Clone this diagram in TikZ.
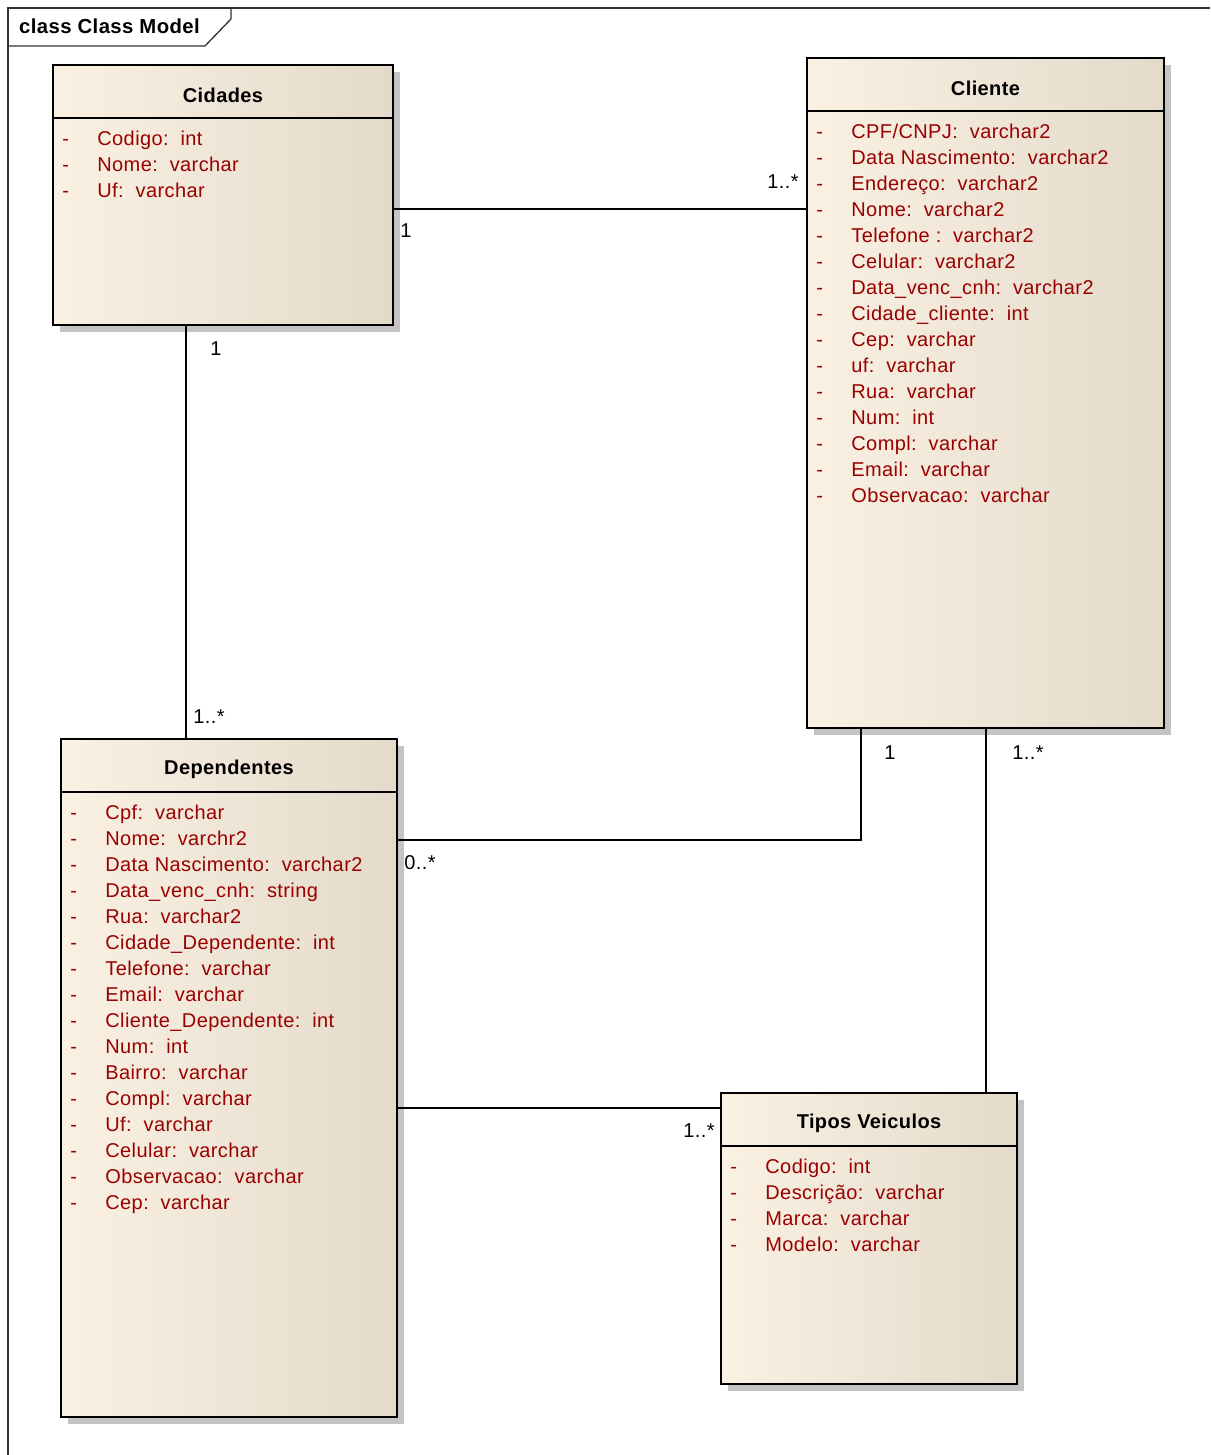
\documentclass[tikz,border=0pt]{standalone}
\usepackage{fontspec}
\setmainfont{Liberation Sans}[LetterSpace=2]
\usetikzlibrary{shadows}
\definecolor{classfill}{RGB}{251,241,227}
\definecolor{classshade}{RGB}{228,218,202}
\definecolor{attrred}{RGB}{153,0,0}
\definecolor{shadowgray}{RGB}{196,196,196}
\definecolor{framegray}{RGB}{50,50,50}
\tikzset{
  classbox/.style={
    draw=black,
    line width=1.6pt,
    inner sep=0pt,
    left color=classfill,
    middle color=classfill,
    right color=classshade,
    drop shadow={shadow xshift=7pt,shadow yshift=-7pt,fill=shadowgray,opacity=1}
  },
  classtitle/.style={
    font=\fontsize{20}{24}\selectfont\bfseries,
    inner sep=0pt
  },
  attrtext/.style={
    font=\fontsize{20}{24}\selectfont,
    text=attrred,
    inner sep=0pt,
    anchor=base west
  },
  multlabel/.style={
    font=\fontsize{20}{24}\selectfont,
    inner sep=0pt,
    anchor=base
  },
  assoc/.style={
    draw=black,
    line width=1.6pt
  },
  divider/.style={
    draw=black,
    line width=1.6pt
  },
  framepen/.style={
    draw=framegray,
    line width=1.3pt
  }
}

\begin{document}
\begin{tikzpicture}[x=1pt,y=-1pt]

  \useasboundingbox (0,0) rectangle (1210,1455);

  % Diagram frame with its name tab.
  \draw[framepen] (8,1455) -- (8,8) -- (1210,8);
  \draw[framepen] (8,46) -- (205,46) -- (231,19) -- (231,8);
  \node[classtitle,font=\fontsize{20.3}{24}\selectfont\bfseries,anchor=base west]
    (frametitle) at (19,34) {class Class Model};

  % Class bodies, placed by their centres.
  \node[classbox,minimum width=340pt,minimum height=260pt] (cidades) at (223,195) {};
  \node[classbox,minimum width=357pt,minimum height=670pt] (cliente) at (985.5,393) {};
  \node[classbox,minimum width=336pt,minimum height=678pt] (dependentes) at (229,1078) {};
  \node[classbox,minimum width=296pt,minimum height=291pt] (tipos) at (869,1238.5) {};

  % Header compartments.
  \foreach \cls/\title in {cidades/Cidades,cliente/Cliente,dependentes/Dependentes,tipos/Tipos Veiculos} {
    \draw[divider] ([yshift=-54pt]\cls.north west) -- ([yshift=-54pt]\cls.north east);
    \node[classtitle] (\cls-title) at ([yshift=-31pt]\cls.north) {\title};
  }

  % Attribute compartments.
  \foreach \attr [count=\i] in {Codigo:~~int,Nome:~~varchar,Uf:~~varchar} {
    \node[attrtext] (cidades-d\i) at ([xshift=10pt,yshift={-55pt-26pt*\i}]cidades.north west) {-};
    \node[attrtext] (cidades-a\i) at ([xshift=45pt,yshift={-55pt-26pt*\i}]cidades.north west) {\attr};
  }
  \foreach \attr [count=\i] in {CPF/CNPJ:~~varchar2,Data Nascimento:~~varchar2,Endereço:~~varchar2,
      Nome:~~varchar2,Telefone~:~~varchar2,Celular:~~varchar2,Data\_venc\_cnh:~~varchar2,
      Cidade\_cliente:~~int,Cep:~~varchar,uf:~~varchar,Rua:~~varchar,Num:~~int,
      Compl:~~varchar,Email:~~varchar,Observacao:~~varchar} {
    \node[attrtext] (cliente-d\i) at ([xshift=10pt,yshift={-55pt-26pt*\i}]cliente.north west) {-};
    \node[attrtext] (cliente-a\i) at ([xshift=45pt,yshift={-55pt-26pt*\i}]cliente.north west) {\attr};
  }
  \foreach \attr [count=\i] in {Cpf:~~varchar,Nome:~~varchr2,Data Nascimento:~~varchar2,
      Data\_venc\_cnh:~~string,Rua:~~varchar2,Cidade\_Dependente:~~int,Telefone:~~varchar,
      Email:~~varchar,Cliente\_Dependente:~~int,Num:~~int,Bairro:~~varchar,Compl:~~varchar,
      Uf:~~varchar,Celular:~~varchar,Observacao:~~varchar,Cep:~~varchar} {
    \node[attrtext] (dependentes-d\i) at ([xshift=10pt,yshift={-55pt-26pt*\i}]dependentes.north west) {-};
    \node[attrtext] (dependentes-a\i) at ([xshift=45pt,yshift={-55pt-26pt*\i}]dependentes.north west) {\attr};
  }
  \foreach \attr [count=\i] in {Codigo:~~int,Descrição:~~varchar,Marca:~~varchar,Modelo:~~varchar} {
    \node[attrtext] (tipos-d\i) at ([xshift=10pt,yshift={-55pt-26pt*\i}]tipos.north west) {-};
    \node[attrtext] (tipos-a\i) at ([xshift=45pt,yshift={-55pt-26pt*\i}]tipos.north west) {\attr};
  }

  % Associations between the classes.
  \draw[assoc] (cidades.east |- 0,209) -- (cliente.west |- 0,209);
  \draw[assoc] (cidades.south -| 186,0) -- (dependentes.north -| 186,0);
  \draw[assoc] (dependentes.east |- 0,840) -| (cliente.south -| 861,0);
  \draw[assoc] (cliente.south -| 986,0) -- (tipos.north -| 986,0);
  \draw[assoc] (dependentes.east |- 0,1108) -- (tipos.west |- 0,1108);

  % Multiplicities at the association ends.
  \node[multlabel] (m-cid-cli) at (406,237) {1};
  \node[multlabel] (m-cli-cid) at (783,189) {1..*};
  \node[multlabel] (m-cid-dep) at (216,355) {1};
  \node[multlabel] (m-dep-cid) at (209,723) {1..*};
  \node[multlabel] (m-dep-cli) at (420,869) {0..*};
  \node[multlabel] (m-cli-dep) at (890,759) {1};
  \node[multlabel] (m-tip-cli) at (1028,759) {1..*};
  \node[multlabel] (m-tip-dep) at (699,1137) {1..*};

\end{tikzpicture}
\end{document}
